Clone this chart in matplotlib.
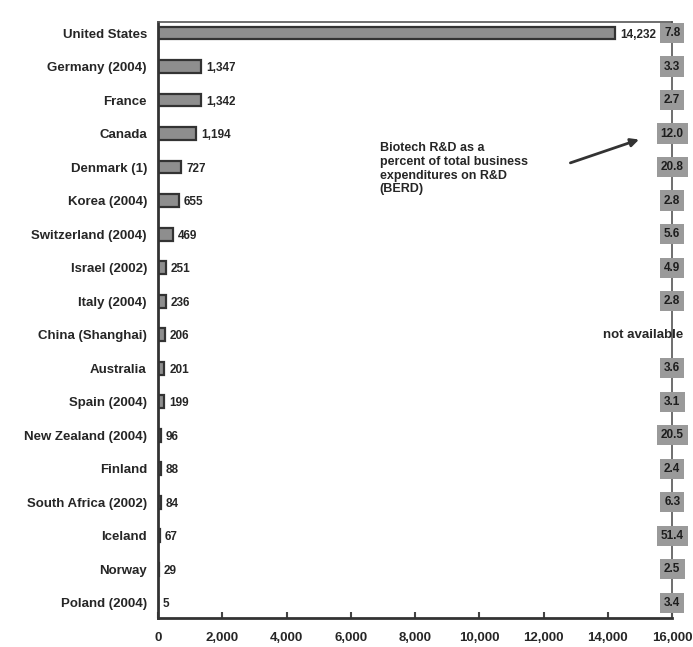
import matplotlib
matplotlib.use("Agg")
import matplotlib.pyplot as plt

countries = ["United States", "Germany (2004)", "France", "Canada", "Denmark (1)",
             "Korea (2004)", "Switzerland (2004)", "Israel (2002)", "Italy (2004)",
             "China (Shanghai)", "Australia", "Spain (2004)", "New Zealand (2004)",
             "Finland", "South Africa (2002)", "Iceland", "Norway", "Poland (2004)"]
spending = [14232, 1347, 1342, 1194, 727, 655, 469, 251, 236, 206, 201, 199, 96, 88, 84, 67, 29, 5]
value_labels = ["14,232", "1,347", "1,342", "1,194", "727", "655", "469", "251", "236",
                "206", "201", "199", "96", "88", "84", "67", "29", "5"]
share_berd = ["7.8", "3.3", "2.7", "12.0", "20.8", "2.8", "5.6", "4.9", "2.8",
              None, "3.6", "3.1", "20.5", "2.4", "6.3", "51.4", "2.5", "3.4"]
xticks = [0, 2000, 4000, 6000, 8000, 10000, 12000, 14000, 16000]
xtick_labels = ["0", "2,000", "4,000", "6,000", "8,000", "10,000", "12,000", "14,000", "16,000"]

plt.rcParams['font.family'] = ['Liberation Sans', 'DejaVu Sans']
txt = '#262626'

fig = plt.figure(figsize=(6.93, 6.47), dpi=100)
ax = fig.add_axes([0.228, 0.045, 0.742, 0.921])

ypos = list(range(len(countries)))
ax.barh(ypos, spending, height=0.38, color='#8e8e8e', edgecolor='#333333', linewidth=1.6)

for y, v, lab in zip(ypos, spending, value_labels):
    ax.text(v + 150, y + 0.05, lab, va='center', ha='left', fontsize=8.5, color=txt,
            fontweight='bold')

for y, s in zip(ypos, share_berd):
    if s is None:
        ax.text(16340, y, "not available", va='center', ha='right', fontsize=9.5,
                color=txt, fontweight='bold', clip_on=False, zorder=5)
    else:
        ax.text(16000, y, s, va='center', ha='center', fontsize=8.5, color='#1e1e1e',
                fontweight='bold', clip_on=False, zorder=5,
                bbox=dict(boxstyle='square,pad=0.35', facecolor='#9a9a9a', edgecolor='none'))

ax.text(6900, 3.25, "Biotech R&D as a\npercent of total business\nexpenditures on R&D\n(BERD)",
        va='top', ha='left', fontsize=9, color=txt, fontweight='bold', linespacing=1.2)
ax.annotate("", xy=(15050, 3.15), xytext=(12750, 3.9),
            arrowprops=dict(arrowstyle='-|>', color='#333333', lw=2.0, mutation_scale=12))

ax.set_xlim(0, 16000)
ax.set_ylim(17.45, -0.33)
ax.set_yticks(ypos)
ax.set_yticklabels(countries, fontsize=9.5, color=txt, fontweight='bold')
ax.tick_params(axis='y', length=0, pad=8)
ax.set_xticks(xticks)
ax.set_xticklabels(xtick_labels, fontsize=9.5, color=txt, fontweight='bold')
ax.tick_params(axis='x', direction='in', length=4, width=1.5, color='#444444', pad=10)

for side in ['left', 'bottom']:
    ax.spines[side].set_linewidth(2.0)
    ax.spines[side].set_color('#333333')
for side in ['top', 'right']:
    ax.spines[side].set_linewidth(1.2)
    ax.spines[side].set_color('#555555')

fig.savefig("out.png", dpi=100, facecolor='white')
